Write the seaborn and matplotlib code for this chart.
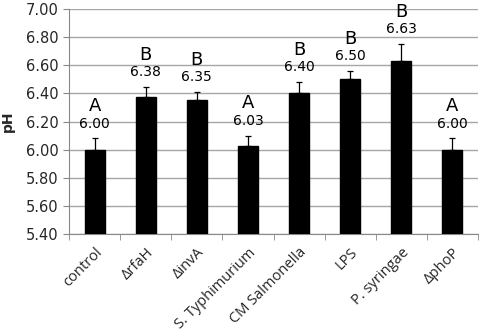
import matplotlib
matplotlib.use("Agg")
import matplotlib.pyplot as plt
import seaborn as sns
import pandas as pd
import numpy as np

categories = ["control", "ΔrfaH", "ΔinvA", "S. Typhimurium", "CM Salmonella", "LPS", "P. syringae", "ΔphoP"]
values = [6.00, 6.375, 6.35, 6.025, 6.40, 6.50, 6.63, 6.00]
errors = [0.08, 0.07, 0.06, 0.075, 0.08, 0.06, 0.12, 0.08]
value_labels = ["6.00", "6.38", "6.35", "6.03", "6.40", "6.50", "6.63", "6.00"]
letters = ["A", "B", "B", "A", "B", "B", "B", "A"]
yticks = [5.40, 5.60, 5.80, 6.00, 6.20, 6.40, 6.60, 6.80, 7.00]

sns.set_style("white")
plt.rcParams['font.family'] = ['DejaVu Sans']

df = pd.DataFrame({"cat": categories, "pH": values})

fig = plt.figure(figsize=(4.84, 3.34), dpi=100)
ax = fig.add_axes([69/484, 1 - 234/334, (478 - 69)/484, (234 - 9)/334])

sns.barplot(data=df, x="cat", y="pH", color="black", width=0.39, ax=ax,
            errorbar=None, saturation=1, zorder=3)
for p in ax.patches:
    p.set_edgecolor("black")

x = np.arange(len(categories))
ax.errorbar(x, values, yerr=[np.zeros(len(errors)), errors], fmt="none",
            ecolor="black", elinewidth=0.9, capsize=2.5, capthick=0.9, zorder=4)

for xi, v, e, lab, let in zip(x, values, errors, value_labels, letters):
    top = v + e
    ax.text(xi, top + 0.055, lab, ha="center", va="bottom", fontsize=10, color="black")
    ax.text(xi, top + 0.165, let, ha="center", va="bottom", fontsize=13, color="black")

ax.set_ylim(5.40, 7.00)
ax.set_xlim(-0.5, len(categories) - 0.5)
ax.set_yticks(yticks)
ax.set_yticklabels([f"{t:.2f}" for t in yticks], fontsize=10.5)
ax.yaxis.grid(True, color="#a6a6a6", linewidth=1, zorder=0)
ax.set_axisbelow(True)
for s in ["top", "right"]:
    ax.spines[s].set_visible(False)
ax.spines["left"].set_color("#888888")
ax.spines["bottom"].set_color("#888888")
ax.tick_params(axis="y", length=4, color="#888888", direction="out", left=True)

ax.set_xticks(x)
ax.set_xticklabels(categories, rotation=45, ha="right", rotation_mode="anchor",
                   fontsize=10.5, family="Open Sans")
ax.tick_params(axis="x", length=0, pad=8)
ax.set_xticks(np.arange(-0.5, len(categories)), minor=True)
ax.tick_params(axis="x", which="minor", length=4, color="#888888", bottom=True)

ax.set_xlabel("")
ax.set_ylabel("pH", fontsize=10, fontweight="bold", labelpad=8)

fig.savefig("out.png", dpi=100)
